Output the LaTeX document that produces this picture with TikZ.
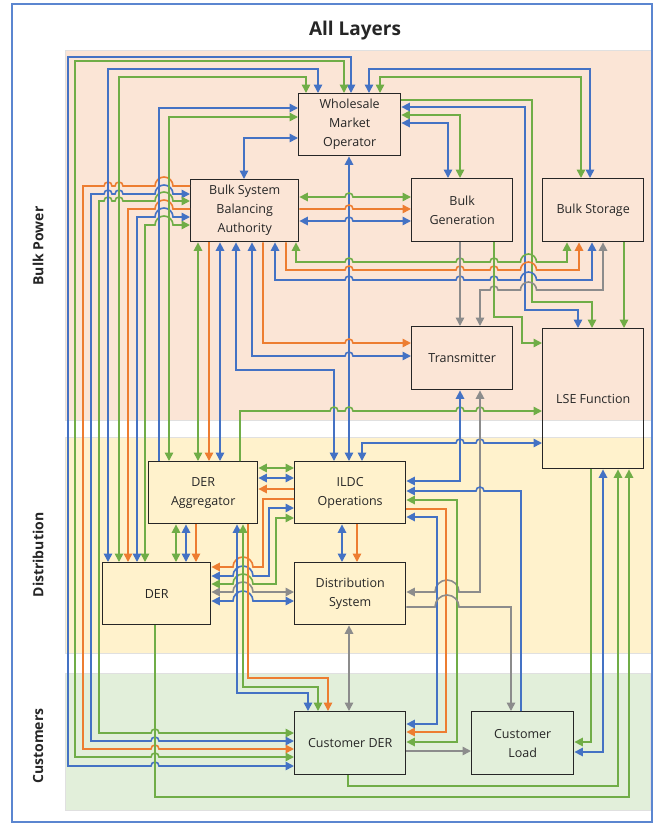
\documentclass[tikz,border=0pt]{standalone}
\usepackage{fontspec}
\setmainfont{Open Sans}
\usetikzlibrary{arrows.meta}
\definecolor{lnBlue}{HTML}{4472C4}
\definecolor{lnGreen}{HTML}{70AD47}
\definecolor{lnOrange}{HTML}{ED7D31}
\definecolor{lnGray}{HTML}{8C8C8C}
\definecolor{bandBulk}{HTML}{FBE5D6}
\definecolor{bandDist}{HTML}{FFF2CC}
\definecolor{bandCust}{HTML}{E2EFDA}
\definecolor{frameBlue}{HTML}{5B86D0}
\definecolor{inkDark}{HTML}{262626}
% line hop on a horizontal run: {x of crossing}{y of run}{radius}
\newcommand\hopR[3]{-- ({#1-#3},#2) arc[start angle=180,end angle=360,radius=#3]}
\newcommand\hopL[3]{-- ({#1+#3},#2) arc[start angle=0,end angle=-180,radius=#3]}
\begin{document}
\begin{tikzpicture}[x=1pt,y=-1pt,
  >={Triangle[length=8.5pt,width=8.5pt]},
  box/.style={draw=inkDark,line width=1.4pt,anchor=north west,align=center,inner sep=2pt,text=inkDark,font=\fontsize{12.5}{19}\selectfont},
  layer/.style={rotate=90,text=inkDark,font=\bfseries\fontsize{14}{16}\selectfont},
  link/.style={line width=1.6pt},
  blueln/.style={link,draw=lnBlue},
  greenln/.style={link,draw=lnGreen},
  orangeln/.style={link,draw=lnOrange},
  grayln/.style={link,draw=lnGray},
  ]
\useasboundingbox (0,0) rectangle (653,825);

% layer bands and frame
\path[fill=bandBulk,draw=black!12] (65,50) rectangle (651,420);
\path[fill=bandDist,draw=black!12] (65,437) rectangle (651,653);
\path[fill=bandCust,draw=black!12] (65,673) rectangle (650,810);
\draw[frameBlue,line width=1.2pt] (12,4) rectangle (652,822);

\node[font=\bfseries\fontsize{19}{21}\selectfont,text=inkDark] (title) at (355,31) {All Layers};
\node[layer] (lbulk) at (38,246) {Bulk Power};
\node[layer] (ldist) at (38,555) {Distribution};
\node[layer] (lcust) at (38,746) {Customers};

% actors
\node[box,minimum width=102pt,minimum height=62pt] (wmo) at (298,93) {Wholesale\\Market\\Operator};
\node[box,minimum width=108pt,minimum height=62pt] (bsba) at (190,179) {Bulk System\\Balancing\\Authority};
\node[box,minimum width=101pt,minimum height=63pt] (bg) at (411,178) {Bulk\\Generation};
\node[box,minimum width=101pt,minimum height=63pt] (bs) at (542,178) {Bulk Storage};
\node[box,minimum width=101pt,minimum height=63pt] (tr) at (411,326) {Transmitter};
\node[box,minimum width=101pt,minimum height=140pt] (lse) at (542,328) {LSE Function};
\node[box,minimum width=109pt,minimum height=62pt] (da) at (148,461) {DER\\Aggregator};
\node[box,minimum width=111pt,minimum height=62pt] (ildc) at (294,461) {ILDC\\Operations};
\node[box,minimum width=108pt,minimum height=62pt] (der) at (102,562) {DER};
\node[box,minimum width=111pt,minimum height=62pt] (ds) at (294,562) {Distribution\\System};
\node[box,minimum width=111pt,minimum height=63pt] (cd) at (294,711) {Customer DER};
\node[box,minimum width=102pt,minimum height=63pt] (cl) at (471,711) {Customer\\Load};

% wholesale market operator <-> customer DER
\draw[blueln,<->] (wmo.north -| 351,0) -- (351,57) -- (68,57) -- (68,766) \hopR{155}{766}{4} -- (cd.west |- 0,766);
\draw[greenln,<->] (wmo.north -| 344,0) -- (344,61) -- (75,61) -- (75,757) \hopR{155}{757}{4} -- (cd.west |- 0,757);
% balancing authority <-> customer DER
\draw[orangeln,->] (bsba.west |- 0,186) \hopL{164}{186}{9} \hopL{119}{186}{4} \hopL{108}{186}{4} -- (83,186) -- (83,749) \hopR{155}{749}{4} -- (cd.west |- 0,749);
\draw[blueln,<->] (bsba.west |- 0,194) \hopL{164}{194}{9} \hopL{119}{194}{4} \hopL{108}{194}{4} -- (91,194) -- (91,741) \hopR{155}{741}{4} -- (cd.west |- 0,741);
\draw[greenln,<->] (bsba.west |- 0,201) \hopL{164}{201}{9} \hopL{119}{201}{4} \hopL{108}{201}{4} -- (99,201) -- (99,733) \hopR{155}{733}{4} -- (cd.west |- 0,733);
% wholesale market operator <-> DER
\draw[blueln,<->] (wmo.north -| 318,0) -- (318,69) -- (108,69) -- (der.north -| 108,0);
\draw[greenln,<->] (wmo.north -| 306,0) -- (306,77) -- (119,77) -- (der.north -| 119,0);
% balancing authority <-> DER
\draw[orangeln,->] (bsba.west |- 0,209) \hopL{164}{209}{9} -- (128,209) -- (der.north -| 128,0);
\draw[blueln,<->] (bsba.west |- 0,217) \hopL{164}{217}{9} -- (137,217) -- (der.north -| 137,0);
\draw[greenln,<->] (bsba.west |- 0,225) \hopL{164}{225}{9} -- (145,225) -- (der.north -| 145,0);
% wholesale market operator <-> DER aggregator, balancing authority
\draw[blueln,->] (da.north -| 159,0) -- (159,108) -- (wmo.west |- 0,108);
\draw[greenln,<->] (wmo.west |- 0,117) -- (169,117) -- (da.north -| 169,0);
\draw[blueln,<->] (wmo.west |- 0,138) -- (244,138) -- (bsba.north -| 244,0);
% wholesale market operator <-> bulk generation, LSE, bulk storage, ILDC
\draw[greenln,<->] (wmo.east |- 0,115) -- (460,115) -- (bg.north -| 460,0);
\draw[blueln,<->] (wmo.east |- 0,123) -- (448,123) -- (bg.north -| 448,0);
\draw[greenln,->] (wmo.east |- 0,100) -- (532,100) -- (532,302) -- (592,302) -- (lse.north -| 592,0);
\draw[blueln,<->] (wmo.east |- 0,107) -- (525,107) -- (525,310) -- (578,310) -- (lse.north -| 578,0);
\draw[blueln,<->] (wmo.north -| 369,0) -- (369,69) -- (590,69) -- (bs.north -| 590,0);
\draw[greenln,<->] (wmo.north -| 380,0) -- (380,77) -- (581,77) -- (bs.north -| 581,0);
\draw[blueln,<->] (wmo.south -| 349,0) -- (ildc.north -| 349,0);
% balancing authority <-> bulk generation
\draw[greenln,<->] (bsba.east |- 0,197) \hopR{349}{197}{4} -- (bg.west |- 0,197);
\draw[orangeln,->] (bsba.east |- 0,209) \hopR{349}{209}{4} -- (bg.west |- 0,209);
\draw[blueln,<->] (bsba.east |- 0,221) \hopR{349}{221}{4} -- (bg.west |- 0,221);
% balancing authority <-> DER aggregator
\draw[greenln,<->] (bsba.south -| 198,0) -- (da.north -| 198,0);
\draw[orangeln,->] (bsba.south -| 209,0) -- (da.north -| 209,0);
\draw[blueln,<->] (bsba.south -| 220,0) -- (da.north -| 220,0);
% balancing authority <-> ILDC, transmitter
\draw[blueln,<->] (bsba.south -| 236,0) -- (236,370) -- (334,370) -- (ildc.north -| 334,0);
\draw[blueln,<->] (bsba.south -| 252,0) -- (252,356) \hopR{349}{356}{4} -- (tr.west |- 0,356);
\draw[orangeln,->] (bsba.south -| 263,0) -- (263,343) \hopR{349}{343}{4} -- (tr.west |- 0,343);
% balancing authority <-> bulk storage
\draw[blueln,<->] (bsba.south -| 275,0) -- (275,280) \hopR{349}{280}{4} \hopR{460}{280}{4} \hopR{494}{280}{4} \hopR{528.5}{280}{8} -- (592,280) -- (bs.south -| 592,0);
\draw[orangeln,->] (bsba.south -| 286,0) -- (286,270) \hopR{349}{270}{4} \hopR{460}{270}{4} \hopR{494}{270}{4} \hopR{528.5}{270}{8} -- (579,270) -- (bs.south -| 579,0);
\draw[greenln,<->] (bsba.south -| 296,0) -- (296,262) \hopR{349}{262}{4} \hopR{460}{262}{4} \hopR{494}{262}{4} \hopR{528.5}{262}{8} -- (567,262) -- (bs.south -| 567,0);
% bulk generation and bulk storage to transmitter and LSE
\draw[grayln,->] (bg.south -| 460,0) -- (tr.north -| 460,0);
\draw[grayln,<->] (bs.south -| 603,0) -- (603,290) \hopL{528.5}{290}{8} \hopL{494}{290}{4} -- (480,290) -- (tr.north -| 480,0);
\draw[greenln,->] (bg.south -| 494,0) -- (494,317) -- (522,317) -- (522,343) -- (lse.west |- 0,343);
\draw[greenln,->] (bs.south -| 624,0) -- (lse.north -| 624,0);
% DER aggregator and ILDC to LSE
\draw[greenln,->] (da.north -| 240,0) -- (240,411) \hopR{334}{411}{4} \hopR{349}{411}{4} \hopR{460}{411}{4} \hopR{480}{411}{4} -- (lse.west |- 0,411);
\draw[blueln,<->] (ildc.north -| 362,0) -- (362,443) \hopR{460}{443}{4} \hopR{480}{443}{4} -- (lse.west |- 0,443);
% ILDC and distribution system to transmitter
\draw[blueln,<->] (ildc.east |- 0,481) -- (460,481) -- (tr.south -| 460,0);
\draw[grayln,<->] (ds.east |- 0,592) \hopR{447}{592}{12} -- (480,592) -- (tr.south -| 480,0);
% ILDC <-> customer load, customer DER
\draw[blueln,->] (cl.north -| 521,0) -- (521,491) \hopL{480}{491}{4} -- (ildc.east |- 0,491);
\draw[greenln,<->] (ildc.east |- 0,500) -- (457,500) -- (457,742) -- (cd.east |- 0,742);
\draw[orangeln,->] (ildc.east |- 0,509) -- (446,509) -- (446,732) -- (cd.east |- 0,732);
\draw[blueln,<->] (ildc.east |- 0,517) -- (437,517) -- (437,724) -- (cd.east |- 0,724);
% distribution system <-> customer load, customer DER
\draw[grayln,->] (ds.east |- 0,607) \hopR{447}{607}{12} -- (511,607) -- (cl.north -| 511,0);
\draw[grayln,<->] (ds.south -| 349,0) -- (cd.north -| 349,0);
% ILDC <-> distribution system
\draw[blueln,<->] (ildc.south -| 342,0) -- (ds.north -| 342,0);
\draw[orangeln,->] (ildc.south -| 357,0) -- (ds.north -| 357,0);
% DER aggregator <-> ILDC
\draw[greenln,<->] (da.east |- 0,468) -- (ildc.west |- 0,468);
\draw[blueln,<->] (da.east |- 0,478) -- (ildc.west |- 0,478);
\draw[orangeln,->] (ildc.west |- 0,489) -- (da.east |- 0,489);
% ILDC <-> DER
\draw[orangeln,->] (ildc.west |- 0,499) -- (263,499) -- (263,567) \hopL{243}{567}{10} -- (der.east |- 0,567);
\draw[blueln,<->] (ildc.west |- 0,508) -- (269,508) -- (269,576) \hopL{243}{576}{10} -- (der.east |- 0,576);
\draw[greenln,<->] (ildc.west |- 0,518) -- (276,518) -- (276,584) \hopL{243}{584}{10} -- (der.east |- 0,584);
% DER <-> distribution system
\draw[grayln,<->] (der.east |- 0,592) \hopR{243}{592}{10} -- (ds.west |- 0,592);
\draw[blueln,<->] (der.east |- 0,601) \hopR{243}{601}{10} -- (ds.west |- 0,601);
% DER aggregator <-> DER
\draw[greenln,<->] (da.south -| 176,0) -- (der.north -| 176,0);
\draw[blueln,<->] (da.south -| 186,0) -- (der.north -| 186,0);
\draw[orangeln,->] (da.south -| 196,0) -- (der.north -| 196,0);
% DER aggregator <-> customer DER
\draw[blueln,<->] (da.south -| 237,0) -- (237,693) -- (308,693) -- (cd.north -| 308,0);
\draw[greenln,<->] (da.south -| 243,0) -- (243,687) -- (318,687) -- (cd.north -| 318,0);
\draw[orangeln,->] (da.south -| 248,0) -- (248,678) -- (328,678) -- (cd.north -| 328,0);
% links to the LSE function from below
\draw[greenln,->] (der.south -| 155,0) -- (155,797) -- (629,797) -- (lse.south -| 629,0);
\draw[greenln,->] (cd.south -| 348,0) -- (348,786) -- (618,786) -- (lse.south -| 618,0);
\draw[greenln,->] (lse.south -| 591,0) -- (591,742) -- (cl.east |- 0,742);
\draw[blueln,<->] (lse.south -| 603,0) -- (603,752) -- (cl.east |- 0,752);
% customer DER to customer load
\draw[grayln,->] (cd.east |- 0,751) -- (cl.west |- 0,751);
\end{tikzpicture}
\end{document}
